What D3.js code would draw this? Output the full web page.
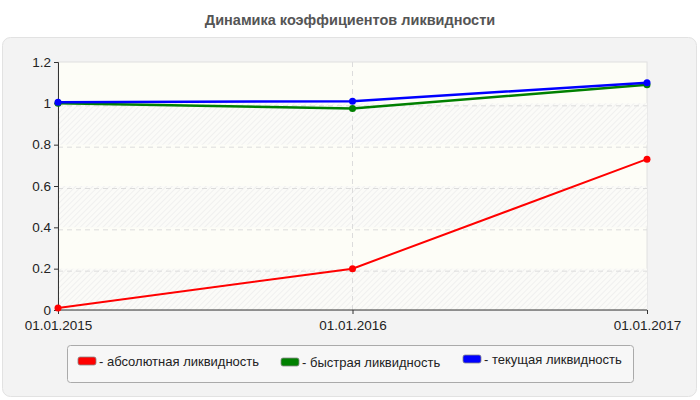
<!DOCTYPE html>
<html>
<head>
<meta charset="utf-8">
<script src="https://cdn.jsdelivr.net/npm/d3@7"></script>
<style>
  body { margin: 0; background: #fff; }
  text { font-family: "Liberation Sans", Arial, sans-serif; }
</style>
</head>
<body>
<svg id="chart" width="700" height="400"></svg>
<script>
var dates = ["01.01.2015", "01.01.2016", "01.01.2017"];
var absLiq = [0.01, 0.2, 0.73];
var quickLiq = [1.0, 0.975, 1.09];
var curLiq = [1.005, 1.01, 1.1];
var seriesNames = ["- абсолютная ликвидность", "- быстрая ликвидность", "- текущая ликвидность"];
var seriesColors = ["#ff0000", "#008000", "#0000ff"];
var yTicks = [0, 0.2, 0.4, 0.6, 0.8, 1, 1.2];

var svg = d3.select("#chart"),
    margin = {top: 62, right: 53, bottom: 90, left: 58},
    width = 700 - margin.left - margin.right,
    height = 400 - margin.top - margin.bottom;

// hatch for the striped bands
var defs = svg.append("defs");
var pat = defs.append("pattern")
    .attr("id", "hatch")
    .attr("patternUnits", "userSpaceOnUse")
    .attr("width", 4).attr("height", 4)
    .attr("patternTransform", "rotate(45)");
pat.append("rect").attr("width", 4).attr("height", 4).attr("fill", "#fbfbf8");
pat.append("line").attr("x1", 0).attr("y1", 0).attr("x2", 0).attr("y2", 4)
    .attr("stroke", "#eaeaea").attr("stroke-width", 1.2);

svg.append("text")
    .attr("x", 350).attr("y", 25)
    .attr("text-anchor", "middle")
    .attr("font-size", 14.5).attr("font-weight", "bold")
    .attr("fill", "#555")
    .text("Динамика коэффициентов ликвидности");

svg.append("rect")
    .attr("x", 2.5).attr("y", 37.5).attr("width", 694).attr("height", 359)
    .attr("rx", 8)
    .attr("fill", "#f3f3f3").attr("stroke", "#e2e2e2");

var x = d3.scalePoint().domain(dates).range([0, width]);
var y = d3.scaleLinear().domain([0, 1.2]).range([height, 0]);

var g = svg.append("g")
    .attr("transform", "translate(" + margin.left + "," + margin.top + ")");

g.append("rect")
    .attr("width", width).attr("height", height)
    .attr("fill", "#fdfdf7").attr("stroke", "#e0e0e0");

g.selectAll("rect.band")
    .data(yTicks.slice(0, -1).filter(function (d, i) { return i % 2 === 0; }))
    .enter().append("rect")
    .attr("class", "band")
    .attr("x", 0).attr("width", width)
    .attr("y", function (d) { return y(d + 0.2); })
    .attr("height", function (d) { return y(d) - y(d + 0.2); })
    .attr("fill", "url(#hatch)");

// grid
g.selectAll("line.hgrid")
    .data(yTicks.slice(1, -1))
    .enter().append("line")
    .attr("class", "hgrid")
    .attr("x1", 0).attr("x2", width)
    .attr("y1", function (d) { return y(d) + 2.5; })
    .attr("y2", function (d) { return y(d) + 2.5; })
    .attr("stroke", "#dcdcdc").attr("stroke-dasharray", "5,4");

g.selectAll("line.vgrid")
    .data(dates.slice(1, -1))
    .enter().append("line")
    .attr("class", "vgrid")
    .attr("x1", function (d) { return x(d); })
    .attr("x2", function (d) { return x(d); })
    .attr("y1", 0).attr("y2", height)
    .attr("stroke", "#dcdcdc").attr("stroke-dasharray", "5,4");

// axes
var yAxis = g.append("g")
    .call(d3.axisLeft(y).tickValues(yTicks).tickSize(4).tickPadding(3)
        .tickFormat(function (d) { return String(d); }));
var xAxis = g.append("g")
    .attr("transform", "translate(0," + height + ")")
    .call(d3.axisBottom(x).tickSize(4).tickPadding(5));

[xAxis, yAxis].forEach(function (ax) {
    ax.select(".domain").attr("stroke", "#333");
    ax.selectAll(".tick line").attr("stroke", "#333");
    ax.selectAll("text").attr("font-size", 13.5).attr("fill", "#222")
        .attr("font-family", "'Liberation Sans', Arial, sans-serif");
});
xAxis.select(".domain").attr("d", "M0.5,0H" + width);
yAxis.selectAll(".tick text").attr("dy", "0.3em");
xAxis.selectAll(".tick text").attr("dy", "0.8em");

// series
var series = [absLiq, quickLiq, curLiq];
var line = d3.line()
    .x(function (d, i) { return x(dates[i]); })
    .y(function (d) { return y(d); });

series.forEach(function (s, k) {
    g.append("path")
        .datum(s)
        .attr("d", line)
        .attr("fill", "none")
        .attr("stroke", seriesColors[k])
        .attr("stroke-width", k === 0 ? 2 : 2.5);
    g.selectAll("circle.s" + k)
        .data(s)
        .enter().append("circle")
        .attr("class", "s" + k)
        .attr("cx", function (d, i) { return x(dates[i]); })
        .attr("cy", function (d) { return y(d); })
        .attr("r", 3.5)
        .attr("fill", seriesColors[k]);
});

// legend
svg.append("rect")
    .attr("x", 67.5).attr("y", 345.5).attr("width", 566).attr("height", 37)
    .attr("rx", 3)
    .attr("fill", "#f7f7f7").attr("stroke", "#aaa");

var legendX = [78, 281, 463],
    legendY = [357, 358, 355];
var leg = svg.selectAll("g.legend")
    .data(seriesNames)
    .enter().append("g")
    .attr("class", "legend")
    .attr("transform", function (d, i) { return "translate(" + legendX[i] + "," + legendY[i] + ")"; });
leg.append("rect")
    .attr("width", 18).attr("height", 8).attr("rx", 2)
    .attr("fill", function (d, i) { return seriesColors[i]; })
    .attr("stroke", "#888").attr("stroke-width", 0.8);
leg.append("text")
    .attr("x", 21).attr("y", 9)
    .attr("font-size", 13).attr("fill", "#222")
    .text(function (d) { return d; });
</script>
</body>
</html>
